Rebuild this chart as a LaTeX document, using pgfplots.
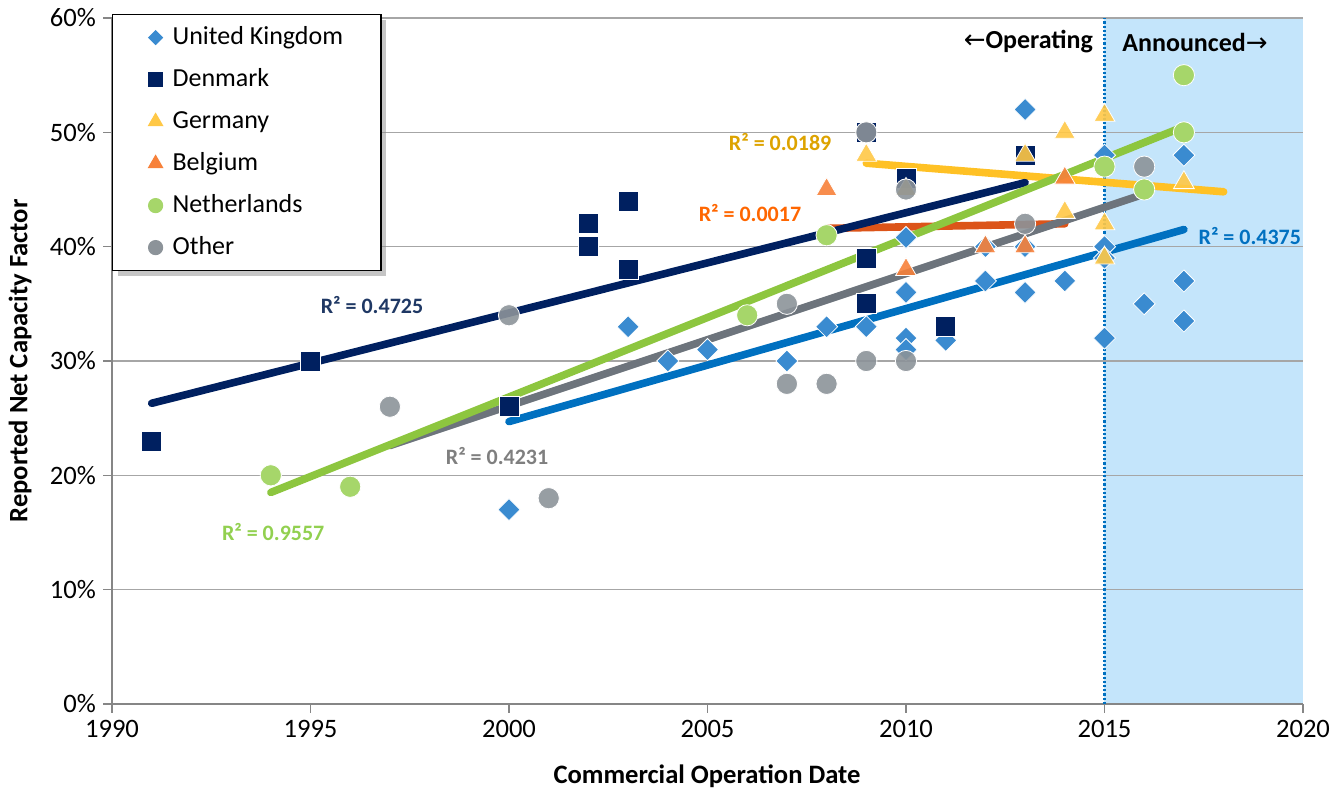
\documentclass[border=0pt]{standalone}
\usepackage{pgfplots}
\pgfplotsset{compat=1.18}
\usepackage{fontspec}
\setmainfont{Carlito}
\newfontfamily\dejavu{DejaVu Sans}
\usetikzlibrary{shadows}
\definecolor{ukc}{HTML}{3A8BD0}
\definecolor{ukl}{HTML}{0070C0}
\definecolor{dkc}{HTML}{002060}
\definecolor{dkt}{HTML}{1F3864}
\definecolor{dec}{HTML}{FFC846}
\definecolor{del}{HTML}{FFC125}
\definecolor{det}{HTML}{DDA300}
\definecolor{bec}{HTML}{F7813A}
\definecolor{bel}{HTML}{DC5419}
\definecolor{bet}{HTML}{FF6600}
\definecolor{nlc}{HTML}{A6D66A}
\definecolor{nll}{HTML}{8DC63F}
\definecolor{nlt}{HTML}{92D050}
\definecolor{otc}{HTML}{8C9399}
\definecolor{otl}{HTML}{6D747C}
\definecolor{ott}{HTML}{7F7F7F}
\definecolor{shadeblue}{HTML}{C4E5FB}
\definecolor{gridgray}{HTML}{A6A6A6}
\definecolor{axisgray}{HTML}{868686}
\begin{document}
\begin{tikzpicture}
\begin{axis}[
  set layers,
  scale only axis, width=595.5pt, height=343pt,
  xmin=1990, xmax=2020, ymin=0, ymax=60,
  xtick={1990,1995,...,2020}, ytick={0,10,...,60},
  /pgf/number format/assume math mode=true,
  x tick label style={/pgf/number format/1000 sep={}},
  yticklabel={\pgfmathprintnumber{\tick}\%},
  tick label style={font=\fontsize{13.3}{15}\selectfont},
  axis x line*=bottom, axis y line*=left,
  axis line style={draw=axisgray, line width=0.7pt, -},
  tick align=outside, major tick length=4.5pt,
  tick style={draw=axisgray, line width=0.7pt},
  ymajorgrids, grid style={draw=gridgray, line width=0.7pt},
  xlabel={Commercial Operation Date},
  ylabel={Reported Net Capacity Factor},
  label style={font=\fontsize{13.3}{15}\selectfont\bfseries},
  x label style={at={(axis description cs:0.4996,-0.105)}, anchor=center},
  y label style={at={(axis description cs:-0.0772,0.5)}, anchor=center, rotate=0},
  legend image code/.code={\path[#1] plot coordinates {(0pt,0pt)};},
  legend cell align=left,
  legend style={at={(0,1)}, anchor=north west, yshift=2pt,
    draw=black, line width=0.6pt, fill=white,
    drop shadow={shadow xshift=2.5pt, shadow yshift=-2.5pt, fill=black!45},
    font=\fontsize{13}{15}\selectfont,
    nodes={inner sep=1pt, text height=10pt, text depth=3pt},
    row sep=6pt, column sep=4pt, inner xsep=18pt, inner ysep=4pt},
]
% shaded announced region
\addplot[draw=none, fill=shadeblue, forget plot, on layer=axis background] coordinates {(2015,60) (2020,60)} \closedcycle;
\addplot[ukl, densely dotted, line width=1.1pt, forget plot] coordinates {(2015,0) (2015,60)};

% United Kingdom
\addplot[only marks, mark=square*, mark size=3.9pt, forget plot,
  mark options={rotate=45, fill=ukc, draw=white, line width=0.4pt}] coordinates {
(2000,17) (2003,33) (2004,30) (2005,31) (2007,30) (2008,33) (2009,33)
(2010,40.8) (2010,36) (2010,32) (2010,31) (2011,31.8) (2012,40) (2012,37)
(2013,52) (2013,40) (2013,36) (2014,37) (2015,48) (2015,40) (2015,39) (2015,32)
(2016,35) (2017,48) (2017,37) (2017,33.5)};
% Denmark
\addplot[only marks, mark=square*, mark size=5pt, forget plot,
  mark options={fill=dkc, draw=white, line width=0.4pt}] coordinates {
(1991,23) (1995,30) (2000,26) (2002,42) (2002,40) (2003,44) (2003,38)
(2009,50) (2009,39) (2009,35) (2010,46) (2011,33) (2013,48)};
% Germany
\addplot[only marks, mark=triangle*, mark size=6pt, forget plot,
  mark options={fill=dec, draw=white, line width=0.4pt, fill opacity=0.9}] coordinates {
(2009,48) (2010,45) (2013,48) (2014,50) (2014,43) (2015,51.5) (2015,42) (2015,39) (2017,45.6)};
% Belgium
\addplot[only marks, mark=triangle*, mark size=6pt, forget plot,
  mark options={fill=bec, draw=white, line width=0.4pt, fill opacity=0.9}] coordinates {
(2008,45) (2010,38) (2012,40) (2013,40) (2014,46)};
% Netherlands
\addplot[only marks, mark=*, mark size=5.3pt, forget plot,
  mark options={fill=nlc, draw=white, line width=0.4pt}] coordinates {
(1994,20) (1996,19) (2006,34) (2008,41) (2015,47) (2016,45) (2017,55) (2017,50)};
% Other
\addplot[only marks, mark=*, mark size=5.3pt, forget plot,
  mark options={fill=otc, draw=white, line width=0.4pt, fill opacity=0.9}] coordinates {
(1997,26) (2000,34) (2001,18) (2007,35) (2007,28) (2008,28) (2009,30) (2009,50)
(2010,30) (2010,45) (2013,42) (2016,47)};

% trend lines
\addplot[bel, line width=3.8pt, line cap=round, forget plot] coordinates {(2008,41.6) (2014,42.0)};
\addplot[del, line width=3.8pt, line cap=round, forget plot] coordinates {(2009,47.3) (2018,44.8)};
\addplot[dkc, line width=3.8pt, line cap=round, forget plot] coordinates {(1991,26.3) (2013,45.6)};
\addplot[ukl, line width=3.8pt, line cap=round, forget plot] coordinates {(2000,24.7) (2017,41.5)};
\addplot[otl, line width=3.8pt, line cap=round, forget plot] coordinates {(1997,22.6) (2016,44.6)};
\addplot[nll, line width=3.8pt, line cap=round, forget plot] coordinates {(1994,18.5) (2017,50.5)};

% R^2 labels
\begin{scope}[every node/.style={font=\fontsize{11}{13}\selectfont\bfseries, inner sep=0pt}]
\node[text=dkt] at (axis cs:1996.55,34.9) {R² = 0.4725};
\node[text=nlt] at (axis cs:1994.06,15.05) {R² = 0.9557};
\node[text=ott] at (axis cs:1999.70,21.7) {R² = 0.4231};
\node[text=bet] at (axis cs:2006.07,42.96) {R² = 0.0017};
\node[text=det] at (axis cs:2006.83,49.17) {R² = 0.0189};
\node[text=ukl] at (axis cs:2018.66,40.94) {R² = 0.4375};
\end{scope}
\node[anchor=east, inner sep=0pt, font=\fontsize{13}{15}\selectfont\bfseries] at (axis cs:2014.72,57.9) {{\dejavu\mdseries ←}Operating};
\node[anchor=west, inner sep=0pt, font=\fontsize{13}{15}\selectfont\bfseries] at (axis cs:2015.44,57.9) {Announced{\dejavu\mdseries →}};

% legend
\addlegendimage{only marks, mark=square*, mark size=2.4pt, ukc, mark options={rotate=45, fill=ukc, draw=ukc}}
\addlegendentry{United Kingdom}
\addlegendimage{only marks, mark=square*, mark size=3.4pt, dkc, mark options={fill=dkc, draw=dkc}}
\addlegendentry{Denmark}
\addlegendimage{only marks, mark=triangle*, mark size=4pt, dec, mark options={fill=dec, draw=dec}}
\addlegendentry{Germany}
\addlegendimage{only marks, mark=triangle*, mark size=4pt, bec, mark options={fill=bec, draw=bec}}
\addlegendentry{Belgium}
\addlegendimage{only marks, mark=*, mark size=3.5pt, nlc, mark options={fill=nlc, draw=nlc}}
\addlegendentry{Netherlands}
\addlegendimage{only marks, mark=*, mark size=3.5pt, otc, mark options={fill=otc, draw=otc}}
\addlegendentry{Other}
\end{axis}
\pgfresetboundingbox
\path[use as bounding box] (-56pt,-43pt) rectangle (614.5pt,352pt);
\end{tikzpicture}
\end{document}
